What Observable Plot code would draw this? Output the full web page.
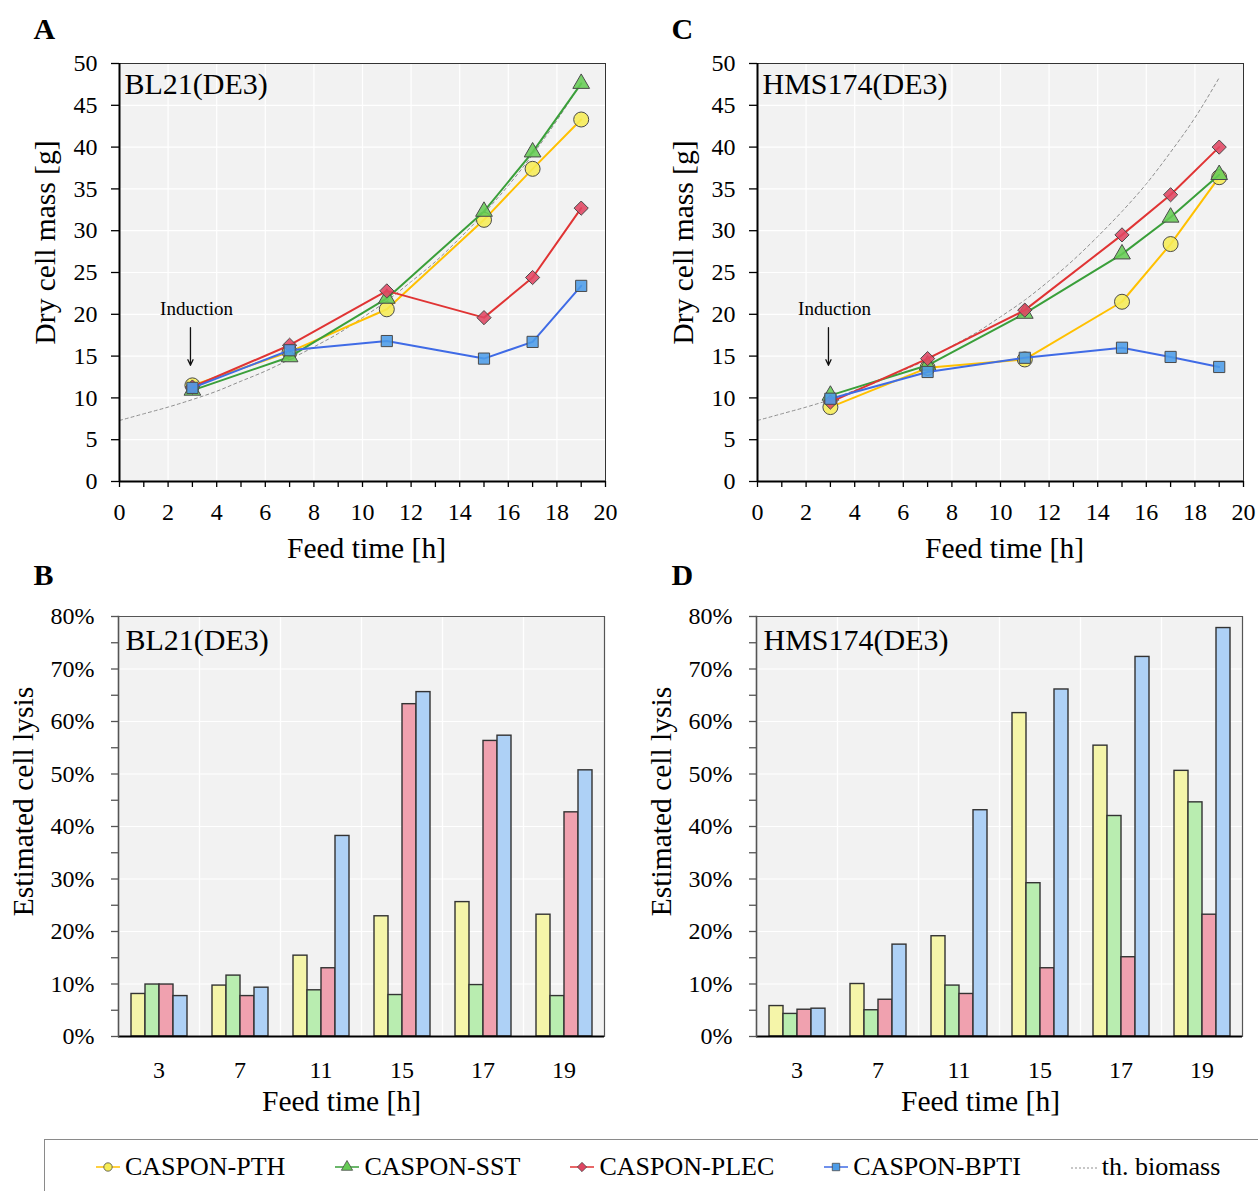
<!DOCTYPE html>
<html>
<head>
<meta charset="utf-8">
<script src="https://cdn.jsdelivr.net/npm/d3@7"></script>
<script src="https://cdn.jsdelivr.net/npm/@observablehq/plot@0.6"></script>
<style>
  html, body { margin: 0; padding: 0; background: #fff; }
  body { font-family: "Liberation Serif", "Times New Roman", serif; color: #000; }
  #root { position: relative; width: 1258px; height: 1191px; overflow: hidden; background: #fff; }
  .panel { position: absolute; width: 629px; }
  .panel svg { max-width: none !important; font-family: "Liberation Serif", "Times New Roman", serif !important; }
  #legend { position: absolute; left: 44px; top: 1139px; width: 1300px; height: 90px;
            border: 1px solid #8a8a8a; box-sizing: border-box; }
  #legendItems { position: absolute; left: 51px; top: 12px; display: flex; align-items: center;
                 font-size: 26px; line-height: 30px; white-space: nowrap; }
  .item { display: flex; align-items: center; margin-right: 50px; }
  .item svg { margin-right: 5px; }
</style>
</head>
<body>
<div id="root">
  <div id="pA" class="panel" style="left:0px;top:0px"></div>
  <div id="pC" class="panel" style="left:638px;top:0px"></div>
  <div id="pB" class="panel" style="left:0px;top:570px"></div>
  <div id="pD" class="panel" style="left:638px;top:570px"></div>
  <div id="legend"><div id="legendItems"></div></div>
</div>
<script>
// ---------- data ----------
const times = [3, 7, 11, 15, 17, 19];
const seriesNames = ["CASPON-PTH", "CASPON-SST", "CASPON-PLEC", "CASPON-BPTI"];
const xTicksAll = [0,1,2,3,4,5,6,7,8,9,10,11,12,13,14,15,16,17,18,19,20];
const xTicksMajor = [0,2,4,6,8,10,12,14,16,18,20];
const dcmTicks = [0,5,10,15,20,25,30,35,40,45,50];
const lysisTicks = [0,0.05,0.1,0.15,0.2,0.25,0.3,0.35,0.4,0.45,0.5,0.55,0.6,0.65,0.7,0.75,0.8];
const lysisGrid = [0,0.1,0.2,0.3,0.4,0.5,0.6,0.7,0.8];

// Dry cell mass [g], BL21(DE3)
const bl21PTH  = [11.5, 15.5, 20.6, 31.3, 37.4, 43.3];
const bl21SST  = [10.9, 14.9, 21.9, 32.3, 39.4, 47.6];
const bl21PLEC = [11.3, 16.3, 22.8, 19.6, 24.4, 32.7];
const bl21BPTI = [11.2, 15.7, 16.8, 14.7, 16.7, 23.4];
// Dry cell mass [g], HMS174(DE3)
const hmsPTH  = [8.9, 13.6, 14.6, 21.5, 28.4, 36.4];
const hmsSST  = [10.3, 13.9, 20.1, 27.2, 31.6, 36.7];
const hmsPLEC = [9.5, 14.7, 20.5, 29.5, 34.3, 40.0];
const hmsBPTI = [9.9, 13.1, 14.8, 16.0, 14.9, 13.7];
// theoretical biomass
const biomassT = [0,1,2,3,4,5,6,7,8,9,10,11,12,13,14,15,16,17,18,19];
const bl21Biomass = [7.3, 8.1, 8.9, 9.8, 10.8, 12.0, 13.2, 14.6, 16.1, 17.7, 19.6, 21.6, 23.9, 26.3, 29.1, 32.1, 35.4, 39.1, 43.2, 47.7];
const hmsBiomass  = [7.3, 8.1, 8.9, 9.8, 10.9, 12.0, 13.3, 14.6, 16.2, 17.8, 19.7, 21.7, 24.0, 26.5, 29.3, 32.3, 35.6, 39.4, 43.5, 48.3];

// Estimated cell lysis (fraction), BL21(DE3)
const bl21LysisPTH  = [0.081, 0.097, 0.154, 0.229, 0.256, 0.232];
const bl21LysisSST  = [0.099, 0.116, 0.088, 0.079, 0.098, 0.077];
const bl21LysisPLEC = [0.099, 0.077, 0.130, 0.633, 0.563, 0.427];
const bl21LysisBPTI = [0.077, 0.093, 0.382, 0.656, 0.573, 0.507];
// Estimated cell lysis (fraction), HMS174(DE3)
const hmsLysisPTH  = [0.058, 0.100, 0.191, 0.616, 0.554, 0.506];
const hmsLysisSST  = [0.043, 0.050, 0.097, 0.292, 0.420, 0.446];
const hmsLysisPLEC = [0.051, 0.070, 0.081, 0.130, 0.151, 0.232];
const hmsLysisBPTI = [0.053, 0.175, 0.431, 0.661, 0.723, 0.778];

// annotation
const inductionArrow = [{x: 2.92, from: 18.4, to: 13.9}];
const inductionLabel = [{x: 3.17, y: 20.6, text: "Induction"}];

// ---------- styles ----------
const FONT = "'Liberation Serif', 'Times New Roman', serif";
const lineColors  = ["#FFC000", "#3A9F3A", "#E03434", "#3F6BE6"];
const markerFills = ["#F6EC55", "#66CC55", "#E04562", "#4C9CE8"];
const symbols = ["circle", "triangle", "diamond2", "square"];
const radii = [7.5, 6.2, 6.4, 6.3];
const barFills = ["#F5F5A9", "#B9EDB0", "#F0A1AF", "#AED1F6"];

function dcmPlot(strain, vals, bioVals, letter) {
  const rows = [];
  seriesNames.forEach((s, i) => times.forEach((t, j) => rows.push({series: s, idx: i, t, v: vals[i][j]})));
  const bio = biomassT.map((t, j) => ({t, v: bioVals[j]}));
  const marks = [
    Plot.frame({fill: "#f2f2f2"}),
    Plot.gridX(xTicksMajor, {stroke: "#fff", strokeOpacity: 1, strokeWidth: 1.2}),
    Plot.gridY(dcmTicks, {stroke: "#fff", strokeOpacity: 1, strokeWidth: 1.2}),
    Plot.line(bio, {x: "t", y: "v", stroke: "#8f8f8f", strokeWidth: 1, strokeDasharray: "3,3", curve: "monotone-x"})
  ];
  seriesNames.forEach((s, i) => {
    const d = rows.filter(r => r.idx === i);
    marks.push(Plot.line(d, {x: "t", y: "v", stroke: lineColors[i], strokeWidth: 2}));
    marks.push(Plot.dot(d, {x: "t", y: "v", symbol: symbols[i], r: radii[i], fill: markerFills[i],
      fillOpacity: 0.88, stroke: "#4a4a4a", strokeWidth: 1}));
  });
  marks.push(
    Plot.arrow(inductionArrow, {x1: "x", x2: "x", y1: "from", y2: "to", stroke: "#111", strokeWidth: 1.3, headLength: 7, headAngle: 50}),
    Plot.text(inductionLabel, {x: "x", y: "y", text: "text", fontSize: 19, fill: "#000", fontFamily: FONT}),
    Plot.frame({stroke: "#333", strokeWidth: 1}),
    Plot.ruleY([0], {stroke: "#000", strokeWidth: 2}),
    Plot.ruleX([0], {stroke: "#000", strokeWidth: 2}),
    Plot.axisY(dcmTicks, {tickSize: 8, tickPadding: 14, fontSize: 24, fontFamily: FONT, label: null, stroke: "#000", strokeWidth: 1.3}),
    Plot.axisX(xTicksAll, {tickSize: 6, tickPadding: 15, fontSize: 24, fontFamily: FONT, label: null, stroke: "#000", strokeWidth: 1.3,
      tickFormat: d => (d % 2 ? "" : String(d))}),
    Plot.text(["Dry cell mass [g]"], {frameAnchor: "left", textAnchor: "middle", rotate: -90, dx: -74, dy: -30, fontSize: 29.5, fontFamily: FONT}),
    Plot.text(["Feed time [h]"], {frameAnchor: "bottom", lineAnchor: "middle", dx: 4, dy: 67, fontSize: 29.5, fontFamily: FONT}),
    Plot.text([strain], {frameAnchor: "top-left", textAnchor: "start", lineAnchor: "middle", dx: 5, dy: 21, fontSize: 30, fontFamily: FONT}),
    Plot.text([letter], {frameAnchor: "top-left", textAnchor: "start", lineAnchor: "middle", dx: -86, dy: -34, fontSize: 30, fontWeight: "bold", fontFamily: FONT})
  );
  return Plot.plot({
    width: 629, height: 570,
    marginLeft: 119, marginRight: 24, marginTop: 63, marginBottom: 89,
    style: {fontFamily: FONT, fontSize: "24px", color: "#000", background: "transparent", overflow: "visible", maxWidth: "none"},
    x: {domain: [0, 20]},
    y: {domain: [0, 50]},
    marks
  });
}

function lysisPlot(strain, vals, letter, xlabDx) {
  const rows = [];
  seriesNames.forEach((s, i) => times.forEach((t, j) => rows.push({series: s, t, v: vals[i][j]})));
  const first = [{t: times[0]}];
  const mid = [{t: times[2]}];
  return Plot.plot({
    width: 629, height: 560,
    marginLeft: 117, marginRight: 25, marginTop: 46, marginBottom: 94,
    style: {fontFamily: FONT, fontSize: "24px", color: "#000", background: "transparent", overflow: "visible", maxWidth: "none"},
    fx: {domain: times, padding: 0, label: null},
    x: {domain: seriesNames, paddingInner: 0, paddingOuter: 0.7, axis: null},
    y: {domain: [0, 0.8]},
    color: {domain: seriesNames, range: barFills},
    marks: [
      Plot.frame({fill: "#f2f2f2"}),
      Plot.gridY(lysisGrid, {stroke: "#fff", strokeOpacity: 1, strokeWidth: 1.2}),
      Plot.frame({stroke: "#fff", strokeWidth: 1.2}),
      Plot.barY(rows, {fx: "t", x: "series", y: "v", fill: "series", stroke: "#333", strokeWidth: 1.4}),
      Plot.ruleY([0.8], {stroke: "#555", strokeWidth: 1.2}),
      Plot.ruleY([0], {stroke: "#000", strokeWidth: 2}),
      Plot.frame({anchor: "left", facetAnchor: "left", stroke: "#555", strokeWidth: 1.6}),
      Plot.frame({anchor: "right", facetAnchor: "right", stroke: "#555", strokeWidth: 1.2}),
      Plot.axisY(lysisTicks, {tickSize: 7, tickPadding: 17, fontSize: 24, fontFamily: FONT, label: null, stroke: "#555", strokeWidth: 1.3,
        tickFormat: d => { const p = Math.round(d * 100); return p % 10 === 0 ? p + "%" : ""; }}),
      Plot.axisFx({anchor: "bottom", tickSize: 0, tickPadding: 24, fontSize: 24, fontFamily: FONT, label: null}),
      Plot.text(first, {fx: "t", text: () => "Estimated cell lysis", frameAnchor: "left", textAnchor: "middle", rotate: -90, dx: -95, dy: -25, fontSize: 29.5, fontFamily: FONT}),
      Plot.text(mid, {fx: "t", text: () => "Feed time [h]", frameAnchor: "bottom-right", textAnchor: "middle", lineAnchor: "middle", dx: xlabDx, dy: 65, fontSize: 29.5, fontFamily: FONT}),
      Plot.text(first, {fx: "t", text: () => strain, frameAnchor: "top-left", textAnchor: "start", lineAnchor: "middle", dx: 7, dy: 24, fontSize: 30, fontFamily: FONT}),
      Plot.text(first, {fx: "t", text: () => letter, frameAnchor: "top-left", textAnchor: "start", lineAnchor: "middle", dx: -85, dy: -41, fontSize: 30, fontWeight: "bold", fontFamily: FONT})
    ]
  });
}

document.getElementById("pA").append(dcmPlot("BL21(DE3)", [bl21PTH, bl21SST, bl21PLEC, bl21BPTI], bl21Biomass, "A"));
document.getElementById("pC").append(dcmPlot("HMS174(DE3)", [hmsPTH, hmsSST, hmsPLEC, hmsBPTI], hmsBiomass, "C"));
document.getElementById("pB").append(lysisPlot("BL21(DE3)", [bl21LysisPTH, bl21LysisSST, bl21LysisPLEC, bl21LysisBPTI], "B", -20));
document.getElementById("pD").append(lysisPlot("HMS174(DE3)", [hmsLysisPTH, hmsLysisSST, hmsLysisPLEC, hmsLysisBPTI], "D", -19));

// ---------- legend ----------
const legendItems = document.getElementById("legendItems");
seriesNames.forEach((s, i) => {
  const item = document.createElement("span");
  item.className = "item";
  const sym = d3.symbol(d3["symbol" + {circle: "Circle", triangle: "Triangle", diamond2: "Diamond2", square: "Square"}[symbols[i]]], 55)();
  item.innerHTML = `<svg width="24" height="20" viewBox="0 0 24 20">
      <line x1="0" x2="24" y1="10" y2="10" stroke="${lineColors[i]}" stroke-width="1.5"/>
      <path d="${sym}" transform="translate(12,10)" fill="${markerFills[i]}" stroke="#4a4a4a" stroke-width="0.8"/>
    </svg><span>${s}</span>`;
  legendItems.append(item);
});
const bioItem = document.createElement("span");
bioItem.className = "item";
bioItem.innerHTML = `<svg width="28" height="20" viewBox="0 0 28 20" style="margin-right:3px">
    <line x1="0" x2="28" y1="11" y2="11" stroke="#8f8f8f" stroke-width="1" stroke-dasharray="2,2"/>
  </svg><span>th. biomass</span>`;
legendItems.append(bioItem);
</script>
</body>
</html>
